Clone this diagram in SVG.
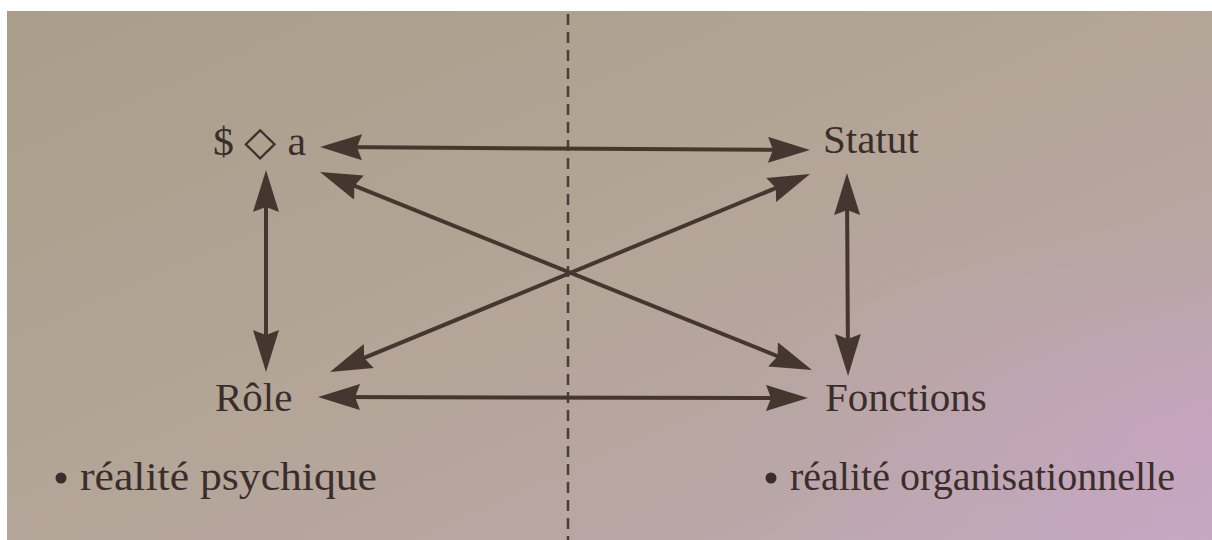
<svg xmlns="http://www.w3.org/2000/svg" width="1212" height="540" viewBox="0 0 1212 540">
  <defs>
    <linearGradient id="paper" x1="0" y1="0" x2="1" y2="1">
      <stop offset="0" stop-color="#ab9d8b"/>
      <stop offset="0.45" stop-color="#b3a596"/>
      <stop offset="0.75" stop-color="#b8a6a4"/>
      <stop offset="1" stop-color="#c4aac2"/>
    </linearGradient>
    <radialGradient id="pink" cx="1" cy="0.8" r="0.4">
      <stop offset="0" stop-color="#c9a2c4" stop-opacity="0.6"/>
      <stop offset="1" stop-color="#c9a2c4" stop-opacity="0"/>
    </radialGradient>
    <marker id="head" markerUnits="userSpaceOnUse" markerWidth="44" markerHeight="28" refX="28" refY="13" orient="auto-start-reverse" viewBox="0 0 44 28">
      <path d="M0,0 L42,13 L0,26 L5,13 z" fill="#45372f"/>
    </marker>
    <style>
      .lbl { font-family: "Liberation Serif", "Times New Roman", serif; fill: #3a2e2a; }
      .node { font-size: 41px; }
      .note { font-size: 40px; }
      .arr { stroke: #45372f; stroke-width: 4; fill: none; marker-start: url(#head); marker-end: url(#head); }
      .sep { stroke: #4a3d36; stroke-width: 2.5; stroke-dasharray: 11 7; fill: none; }
    </style>
  </defs>
  <rect x="0" y="0" width="1212" height="540" fill="#ffffff"/>
  <rect x="7" y="11" width="1205" height="529" fill="url(#paper)"/>
  <rect x="7" y="11" width="1205" height="529" fill="url(#pink)"/>

  <line class="sep" x1="568" y1="14" x2="568" y2="540"/>

  <g id="connectors">
    <line class="arr" x1="334" y1="147" x2="796" y2="150"/>
    <line class="arr" x1="332" y1="397" x2="794" y2="398"/>
    <line class="arr" x1="266" y1="184" x2="266" y2="358"/>
    <line class="arr" x1="847" y1="187" x2="848" y2="362"/>
    <line class="arr" x1="333" y1="177.2" x2="799" y2="364.8"/>
    <line class="arr" x1="797.1" y1="179.3" x2="342.9" y2="366.7"/>
  </g>

  <g id="node-sujet">
    <text class="lbl node" x="213" y="155" textLength="93" lengthAdjust="spacingAndGlyphs">$ ◇ a</text>
  </g>
  <g id="node-statut">
    <text class="lbl node" x="823" y="153">Statut</text>
  </g>
  <g id="node-role">
    <text class="lbl node" x="215" y="411">Rôle</text>
  </g>
  <g id="node-fonctions">
    <text class="lbl node" x="825" y="411">Fonctions</text>
  </g>
  <g id="label-psychique">
    <circle cx="61" cy="478" r="5.5" fill="#3a2e2a"/>
    <text class="lbl note" x="80" y="490" textLength="297" lengthAdjust="spacingAndGlyphs">réalité psychique</text>
  </g>
  <g id="label-organisationnelle">
    <circle cx="771" cy="478" r="5.5" fill="#3a2e2a"/>
    <text class="lbl note" x="790" y="490" textLength="385" lengthAdjust="spacingAndGlyphs">réalité organisationnelle</text>
  </g>
</svg>
